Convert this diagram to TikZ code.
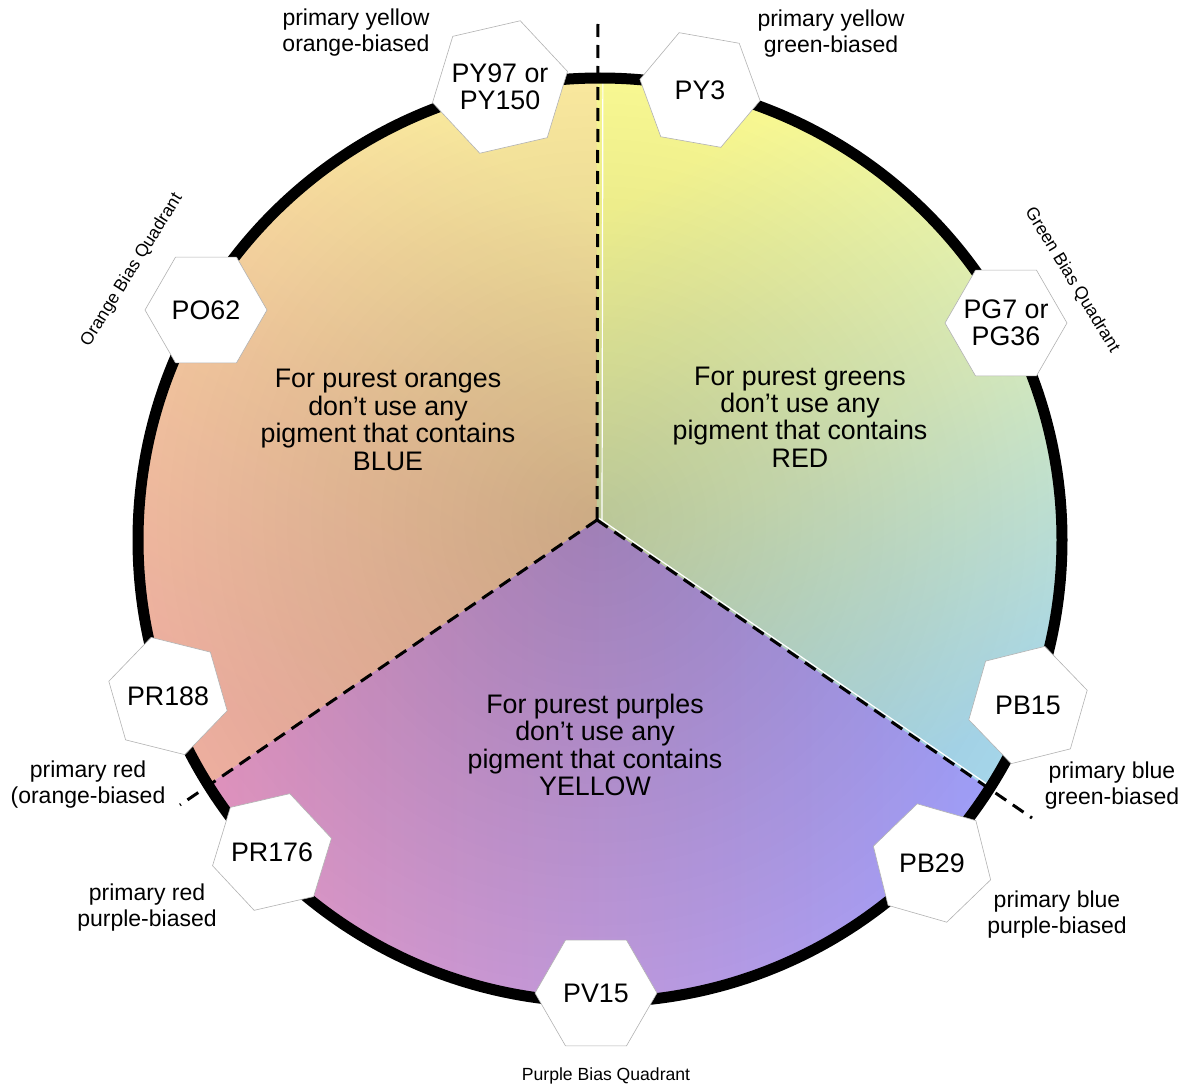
\documentclass[tikz,border=0pt]{standalone}
\usepackage{fontspec}
\setmainfont{Liberation Sans}
\usetikzlibrary{shapes.geometric,fadings}

\definecolor{orangetop}{HTML}{FCEBA0}
\definecolor{orangemid}{HTML}{F3C89E}
\definecolor{orangebot}{HTML}{EEB0A0}
\definecolor{greentop}{HTML}{FBFB94}
\definecolor{greenmid}{HTML}{D8EBBC}
\definecolor{greenbot}{HTML}{A6D6EA}
\definecolor{purpleleft}{HTML}{E093BD}
\definecolor{purpleright}{HTML}{9E9EF8}

\tikzfading[name=centershadow, inner color=transparent!84, outer color=transparent!100]

\begin{document}
\begin{tikzpicture}
[
x=0.5pt, y=0.5pt,
pigment/.style={draw=gray!60,line width=0.3pt,fill=white,regular polygon,regular polygon sides=6,
            minimum size=61pt,inner sep=-3pt,shape border rotate=#1,align=center,
            font=\fontsize{13.4}{13.6}\selectfont},
pigment/.default=0,
note/.style={align=center,font=\fontsize{11.5}{13}\selectfont},
quadrant/.style={font=\fontsize{8.8}{10}\selectfont},
advice/.style={align=center,font=\fontsize{13.4}{13.7}\selectfont},
divider/.style={line width=1.5pt,dash pattern=on 6.5pt off 4pt},
seam/.style={white,line width=0.6pt},
rim/.style={line width=5.5pt},
]
\useasboundingbox (0,0) rectangle (1190,-1086);

%Place the coordinates
\coordinate (C) at (600,-540);
\coordinate (J) at (597,-520);
\coordinate (topend) at (598,-22);
\coordinate (leftend) at (180,-805);
\coordinate (rightend) at (1032,-818);

%Fill the three sectors
\shade[top color=orangetop,bottom color=orangebot,middle color=orangemid,shading angle=-30]
    (J) -- ([shift={(90.4:462)}]C) arc[start angle=90.4,end angle=212,radius=462] -- cycle;
\shade[top color=greentop,bottom color=greenbot,middle color=greenmid,shading angle=30]
    (J) -- ([shift={(-32.6:462)}]C) arc[start angle=-32.6,end angle=90.4,radius=462] -- cycle;
\shade[left color=purpleleft,right color=purpleright]
    (J) -- ([shift={(212:462)}]C) arc[start angle=212,end angle=327.4,radius=462] -- cycle;
\begin{scope}
\clip (C) circle[radius=462];
\fill[black,path fading=centershadow] (J) circle[radius=480];
\draw[seam] ([xshift=2.5]J) -- ([xshift=2.5]topend);
\draw[seam] ([shift={(1.4,2.1)}]J) -- ([shift={(1.4,2.1)}]rightend);
\end{scope}

%Draw the rim and the dividers
\draw[rim] (C) circle[radius=462];
\draw[divider] (J) -- (topend);
\draw[divider] (J) -- (leftend);
\draw[divider] (J) -- (rightend);

%Place the pigments
\node[pigment=13] (py97) at (500,-87) {PY97 or\\PY150};
\node[pigment=-10] (py3) at (700,-90) {PY3};
\node[pigment] (po62) at (206,-310) {PO62};
\node[pigment] (pg7) at (1006,-323) {PG7 or\\PG36};
\node[pigment=-14] (pr188) at (168,-696) {PR188};
\node[pigment=13] (pr176) at (272,-852) {PR176};
\node[pigment] (pv15) at (596,-993) {PV15};
\node[pigment=14] (pb15) at (1028,-705) {PB15};
\node[pigment=-16] (pb29) at (932,-863) {PB29};

%Place the notes
\node[note] (py97note) at (356,-33) {primary yellow\\orange-biased};
\node[note] (py3note) at (831,-34) {primary yellow\\green-biased};
\node[note] (pr188note) at (88,-785) {primary red\\(orange-biased};
\node[note] (pr176note) at (147,-908) {primary red\\purple-biased};
\node[note] (pb15note) at (1112,-786) {primary blue\\green-biased};
\node[note] (pb29note) at (1057,-915) {primary blue\\purple-biased};
\node[quadrant,rotate=58] (orangequad) at (132,-270) {Orange Bias Quadrant};
\node[quadrant,rotate=-58.7] (greenquad) at (1072,-280) {Green Bias Quadrant};
\node[quadrant] (purplequad) at (606,-1076) {Purple Bias Quadrant};

%Place the advice
\node[advice] (orangeadvice) at (388,-420) {For purest oranges\\don’t use any\\pigment that contains\\BLUE};
\node[advice] (greenadvice) at (800,-417) {For purest greens\\don’t use any\\pigment that contains\\RED};
\node[advice] (purpleadvice) at (595,-745) {For purest purples\\don’t use any\\pigment that contains\\YELLOW};
\end{tikzpicture}
\end{document}
